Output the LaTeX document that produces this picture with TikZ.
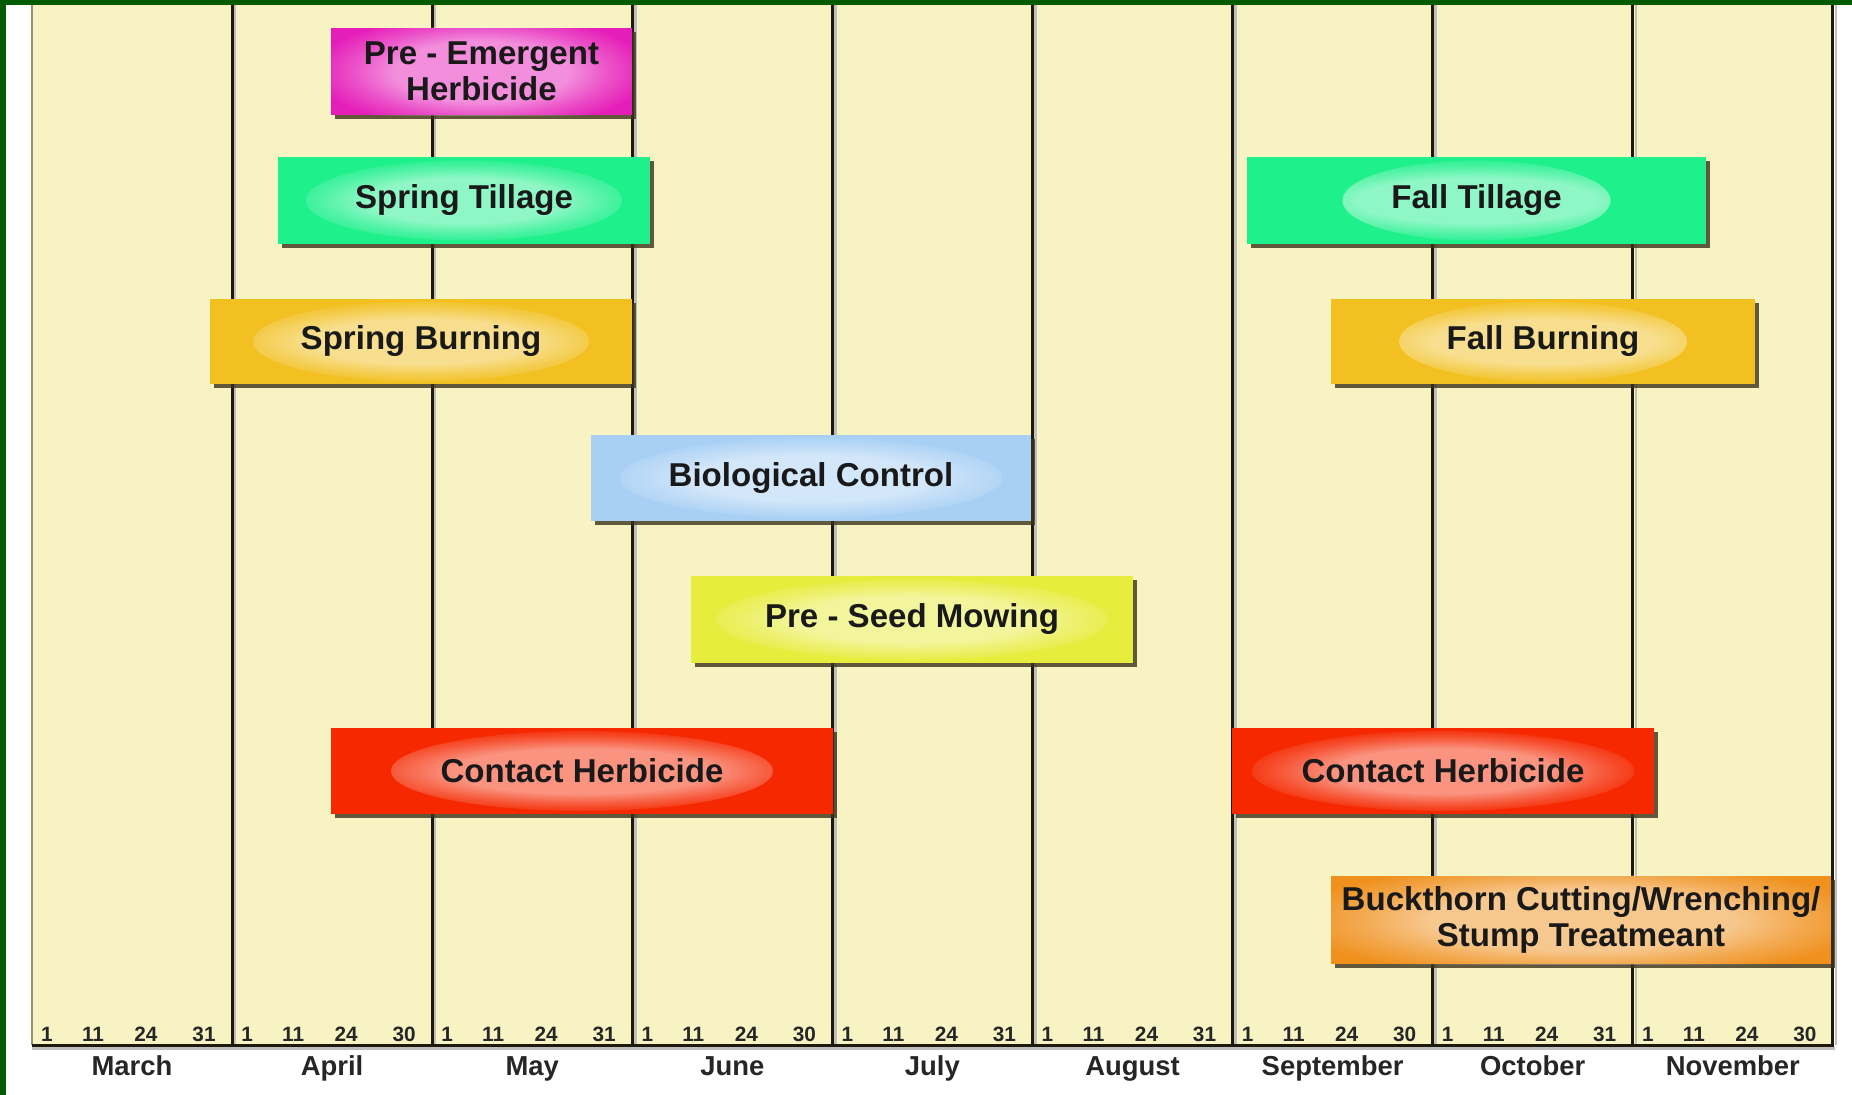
\documentclass[tikz,border=0pt]{standalone}
\usepackage{fontspec}
\setmainfont{Liberation Sans}
\usetikzlibrary{shadows,fadings}

\definecolor{framegreen}{RGB}{0,90,0}
\definecolor{chartbg}{RGB}{248,243,195}
\definecolor{gridclr}{RGB}{30,25,10}
\definecolor{shadowclr}{RGB}{60,50,25}
\definecolor{pinkbar}{RGB}{230,30,185}
\definecolor{greenbar}{RGB}{30,240,140}
\definecolor{goldbar}{RGB}{242,192,32}
\definecolor{bluebar}{RGB}{168,208,245}
\definecolor{limebar}{RGB}{232,236,60}
\definecolor{redbar}{RGB}{245,40,0}
\definecolor{orangebar}{RGB}{240,145,30}

\newcommand\barfont{\fontsize{9.4}{10.4}\selectfont\bfseries}
\newcommand\monthfont{\fontsize{7.8}{8}\selectfont\bfseries}
\newcommand\dayfont{\fontsize{5.9}{6}\selectfont\bfseries}

% white halo behind the bar labels
\pgfdeclareradialshading{glowmask}{\pgfpointorigin}{color(0bp)=(white); color(13bp)=(white); color(19bp)=(white!45!black); color(25bp)=(black); color(50bp)=(black)}
\pgfdeclarefading{glowfade}{\pgfuseshading{glowmask}}
\def\glowx{1.5cm}
\def\glowy{0.3cm}

\begin{document}
\begin{tikzpicture}[%
    x=0.01cm, y=-0.01cm,      % one unit is one pixel of the chart
    ]
% -------------------------------------------------
% A few styles
\tikzset{
  barbox/.style={rectangle, fill=#1, text=black!90, font=\barfont, align=center,
    inner sep=0pt, minimum height=0.87cm,
    drop shadow={shadow xshift=0.04cm, shadow yshift=-0.04cm, fill=shadowclr, opacity=0.8},
    path picture={\fill[white, path fading=glowfade, fill opacity=0.5]
      (path picture bounding box.center) ellipse [x radius=\glowx, y radius=\glowy];}},
  glow/.code args={#1 and #2}{\def\glowx{#1}\def\glowy{#2}},
  gridline/.style={draw=gridclr, line width=0.03cm},
  gridshadow/.style={draw=black!25, line width=0.025cm},
  monthlbl/.style={font=\monthfont, anchor=base, inner sep=0pt, text=black!85},
  daylbl/.style={font=\dayfont, anchor=base, inner sep=0pt, text=black!85},
}
\useasboundingbox (0,0) rectangle (1852,1095);
% -------------------------------------------------
% Frame and chart background
\fill[framegreen] (0,0) rectangle (1852,5.5);
\fill[framegreen] (0,0) rectangle (5.5,1095);
\fill[chartbg] (32,5.5) rectangle (1833,1045);
% -------------------------------------------------
% Month separators and the time axis
\foreach \k in {1,...,9}
  \draw[gridshadow] ({32+200.1*\k+3},5.5) -- ({32+200.1*\k+3},1045);
\draw[draw=black!40!chartbg, line width=0.025cm] (32,5.5) -- (32,1045);
\foreach \k in {1,...,9}
  \draw[gridline] ({32+200.1*\k},5.5) -- ({32+200.1*\k},1046);
\draw[draw=black!25, line width=0.03cm] (32,1048) -- (1835,1048);
\draw[gridline] (32,1045) -- (1834,1045);
% -------------------------------------------------
% Month names and day marks
\foreach \mname/\mlast [count=\i from 0] in {March/31,April/30,May/31,June/30,
    July/31,August/31,September/30,October/31,November/30} {
  \node[monthlbl] (m\i) at ({132+200.1*\i},1075) {\mname};
  \foreach \off/\dnum [count=\j] in {15/1,61/11,114/24,172/\mlast}
    \node[daylbl] (d\i-\j) at ({32+200.1*\i+\off},1041) {\dnum};
}
% -------------------------------------------------
% Now the bars
\node[barbox=pinkbar, minimum width=3.01cm, glow=1.68cm and 0.58cm] (pre) at (481.5,71.5)
  {Pre - Emergent\\Herbicide};
\node[barbox=greenbar, minimum width=3.72cm, glow=1.58cm and 0.4cm] (stil) at (464,200.5)
  {Spring Tillage};
\node[barbox=greenbar, minimum width=4.59cm, glow=1.34cm and 0.4cm] (ftil) at (1476.5,200.5)
  {Fall Tillage};
\node[barbox=goldbar, minimum width=4.22cm, minimum height=0.85cm, glow=1.68cm and 0.4cm] (sbur) at (421,341.5)
  {Spring Burning};
\node[barbox=goldbar, minimum width=4.24cm, minimum height=0.85cm, glow=1.44cm and 0.4cm] (fbur) at (1543,341.5)
  {Fall Burning};
\node[barbox=bluebar, minimum width=4.4cm, minimum height=0.86cm, glow=1.91cm and 0.4cm] (bio) at (811,478)
  {Biological Control};
\node[barbox=limebar, minimum width=4.42cm, glow=1.96cm and 0.4cm] (mow) at (912,619.5)
  {Pre - Seed Mowing};
\node[barbox=redbar, minimum width=5.02cm, minimum height=0.86cm, glow=1.91cm and 0.4cm] (ch1) at (582,771)
  {Contact Herbicide};
\node[barbox=redbar, minimum width=4.22cm, minimum height=0.86cm, glow=1.91cm and 0.4cm] (ch2) at (1443,771)
  {Contact Herbicide};
\node[barbox=orangebar, minimum width=5cm, minimum height=0.88cm, glow=2.9cm and 0.58cm] (buck) at (1581,920)
  {Buckthorn Cutting/Wrenching/\\Stump Treatmeant};
% -------------------------------------------------
\end{tikzpicture}
\end{document}
